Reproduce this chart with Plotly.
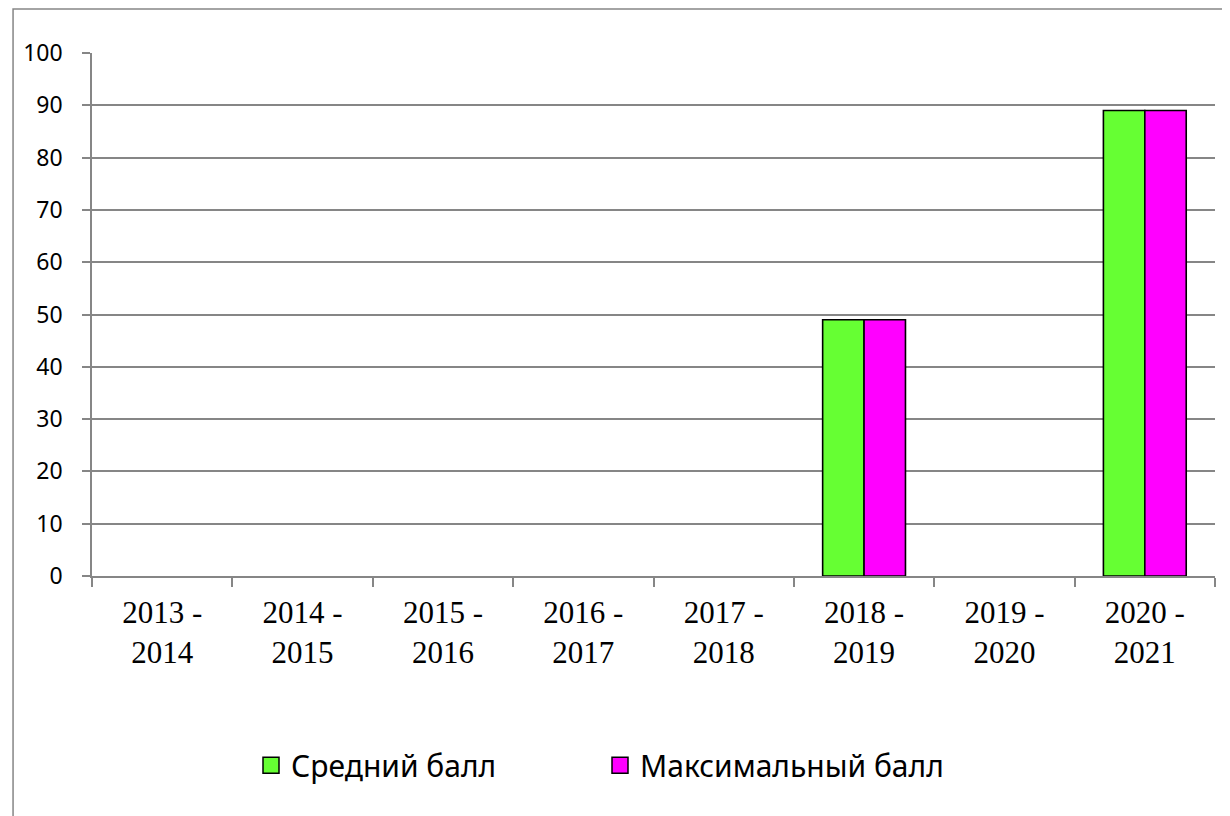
import plotly.graph_objects as go

categories = ["2013 -<br>2014", "2014 -<br>2015", "2015 -<br>2016", "2016 -<br>2017",
              "2017 -<br>2018", "2018 -<br>2019", "2019 -<br>2020", "2020 -<br>2021"]
avg_score = [None, None, None, None, None, 49, None, 89]
max_score = [None, None, None, None, None, 49, None, 89]
series_names = ["Средний балл", "Максимальный балл"]
series_colors = ["#66FF33", "#FF00FF"]
y_ticks = [0, 10, 20, 30, 40, 50, 60, 70, 80, 90, 100]

GRID = "#868686"

fig = go.Figure()
for vals, name, col in zip([avg_score, max_score], series_names, series_colors):
    fig.add_trace(go.Bar(x=categories, y=vals, name=name, showlegend=False,
                         marker=dict(color=col, line=dict(color="black", width=1.6))))
# legend entries (square swatches)
for name, col in zip(series_names, series_colors):
    fig.add_trace(go.Scatter(x=[None], y=[None], mode="markers", name=name,
                             marker=dict(symbol="square", size=16, color=col,
                                         line=dict(color="black", width=1.5))))

# page body has an 8px margin -> figure is 1222x808 placed at (8,8)
fig.update_layout(
    width=1222, height=808,
    margin=dict(l=84, r=15, t=45, b=240),
    paper_bgcolor="white", plot_bgcolor="white",
    barmode="group", bargap=0.41, bargroupgap=0,
    legend=dict(orientation="h", x=(251 - 92) / 1123, xanchor="left", y=-0.362, yanchor="middle",
                font=dict(family="Noto Sans", size=30, color="black"),
                entrywidth=304, itemwidth=30),
    showlegend=True,
)
fig.update_xaxes(
    type="category", tickson="boundaries", ticks="outside", ticklen=9, tickcolor=GRID, tickwidth=1.5,
    showline=True, linecolor=GRID, linewidth=1.5, showgrid=False,
    tickfont=dict(family="Liberation Serif", size=31, color="black"),
    ticklabelstandoff=8,
)
fig.update_yaxes(
    range=[0, 100], tickvals=y_ticks, ticks="outside", ticklen=8, tickcolor=GRID, tickwidth=1.5,
    showline=True, linecolor=GRID, linewidth=1.5, showgrid=True, gridcolor=GRID, gridwidth=1.5,
    zeroline=False,
    tickfont=dict(family="Noto Sans", size=23, color="black"),
    ticklabelstandoff=15,
)
fig.add_shape(type="rect", xref="paper", yref="paper",
              x0=-0.0703, x1=1.03, y0=-0.5, y1=1.0841,
              line=dict(color=GRID, width=1.5), fillcolor="rgba(0,0,0,0)", layer="below")

fig.write_html("out.html")
